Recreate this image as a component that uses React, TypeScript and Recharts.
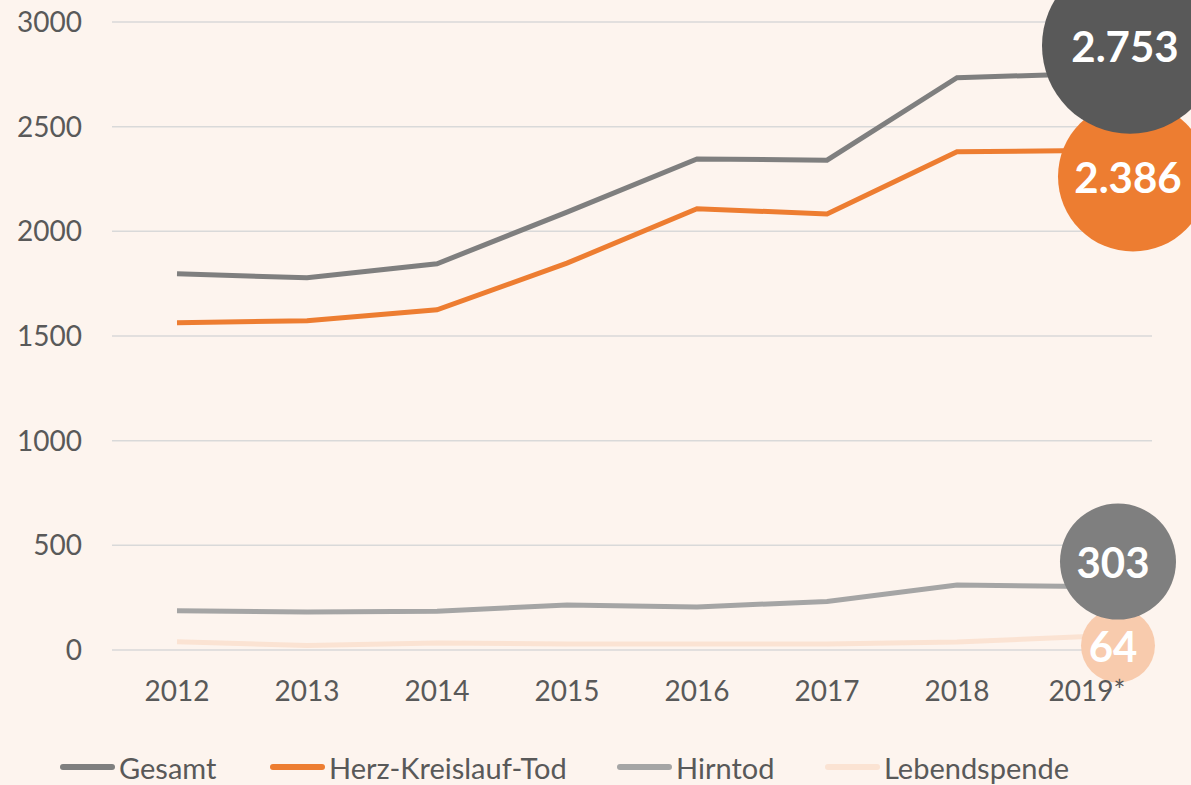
import React from "react";
import { CartesianGrid, Line, LineChart, XAxis, YAxis } from "recharts";

const years = ["2012", "2013", "2014", "2015", "2016", "2017", "2018", "2019*"];
const gesamt = [1797, 1778, 1845, 2092, 2346, 2340, 2734, 2753];
const herzKreislauf = [1563, 1573, 1625, 1848, 2108, 2083, 2380, 2386];
const hirntod = [187, 182, 185, 215, 206, 232, 311, 303];
const lebendspende = [40, 21, 33, 29, 29, 29, 38, 64];
const yTicks = [0, 500, 1000, 1500, 2000, 2500, 3000];

const BG = "#FDF4EE";
const TEXT = "#595959";
const FONT = "Lato, 'Open Sans', sans-serif";

const rows = years.map((year, i) => ({
  year,
  gesamt: gesamt[i],
  herz: herzKreislauf[i],
  hirntod: hirntod[i],
  lebend: lebendspende[i],
}));

type Bubble = { fill: string; r: number; dx: number; dy: number; format: (v: number) => string };

const fmt = (v: number) => v.toLocaleString("de-DE");

// end-of-line value bubble, drawn only on the last point
const endBubble = (b: Bubble) => (props: any) => {
  const { cx, cy, index, value, key } = props;
  if (index !== years.length - 1) return <g key={key ?? index} />;
  const v = Array.isArray(value) ? value[1] : value;
  return (
    <g key={key ?? index}>
      <circle cx={cx + b.dx} cy={cy + b.dy} r={b.r} fill={b.fill} />
      <text
        x={cx + b.dx - 5}
        y={cy + b.dy}
        textAnchor="middle"
        dominantBaseline="central"
        fill="#fff"
        fontFamily={FONT}
        fontWeight={700}
        fontSize={42}
      >
        {b.format(v)}
      </text>
    </g>
  );
};

const series = [
  { key: "gesamt", name: "Gesamt", color: "#7F7F7F" },
  { key: "herz", name: "Herz-Kreislauf-Tod", color: "#ED7D31" },
  { key: "hirntod", name: "Hirntod", color: "#A5A5A5" },
  { key: "lebend", name: "Lebendspende", color: "#FBE3D3" },
];

const legendX = [60, 270, 617, 825];

export default function App() {
  return (
    <div
      style={{
        position: "absolute",
        left: 0,
        top: 0,
        width: 1191,
        height: 785,
        background: BG,
        overflow: "hidden",
        fontFamily: FONT,
      }}
    >
      <LineChart
        width={1191}
        height={785}
        data={rows}
        margin={{ top: 22, right: 39, left: 0, bottom: 80 }}
      >
        <CartesianGrid vertical={false} stroke="#D9D9D9" strokeWidth={1.5} />
        <XAxis
          dataKey="year"
          axisLine={false}
          tickLine={false}
          tickSize={0}
          tickMargin={31}
          height={55}
          padding={{ left: 65, right: 65 }}
          tick={{ fill: TEXT, fontSize: 28, fontFamily: FONT }}
        />
        <YAxis
          domain={[0, 3000]}
          ticks={yTicks}
          width={112}
          axisLine={false}
          tickLine={false}
          tickSize={0}
          tickMargin={30}
          tick={{ fill: TEXT, fontSize: 28, fontFamily: FONT }}
        />
        <Line
          dataKey="lebend"
          stroke="#FBE3D3"
          strokeWidth={5}
          isAnimationActive={false}
          dot={endBubble({ fill: "#F8CBAD", r: 37, dx: 31, dy: 9, format: fmt })}
          activeDot={false}
        />
        <Line
          dataKey="hirntod"
          stroke="#A5A5A5"
          strokeWidth={5}
          isAnimationActive={false}
          dot={endBubble({ fill: "#7F7F7F", r: 58, dx: 31, dy: -25, format: fmt })}
          activeDot={false}
        />
        <Line
          dataKey="herz"
          stroke="#ED7D31"
          strokeWidth={5}
          isAnimationActive={false}
          dot={endBubble({ fill: "#ED7D31", r: 75, dx: 46, dy: 26, format: fmt })}
          activeDot={false}
        />
        <Line
          dataKey="gesamt"
          stroke="#7F7F7F"
          strokeWidth={5}
          isAnimationActive={false}
          dot={endBubble({ fill: "#595959", r: 88, dx: 43, dy: -28, format: fmt })}
          activeDot={false}
        />
      </LineChart>
      {series.map((s, i) => (
        <div
          key={s.key}
          style={{
            position: "absolute",
            left: legendX[i],
            top: 750,
            height: 34,
            display: "flex",
            alignItems: "center",
            color: TEXT,
            fontSize: 29,
          }}
        >
          <span
            style={{
              display: "inline-block",
              width: 55,
              height: 6,
              borderRadius: 3,
              background: s.color,
              marginRight: 4,
            }}
          />
          {s.name}
        </div>
      ))}
    </div>
  );
}
